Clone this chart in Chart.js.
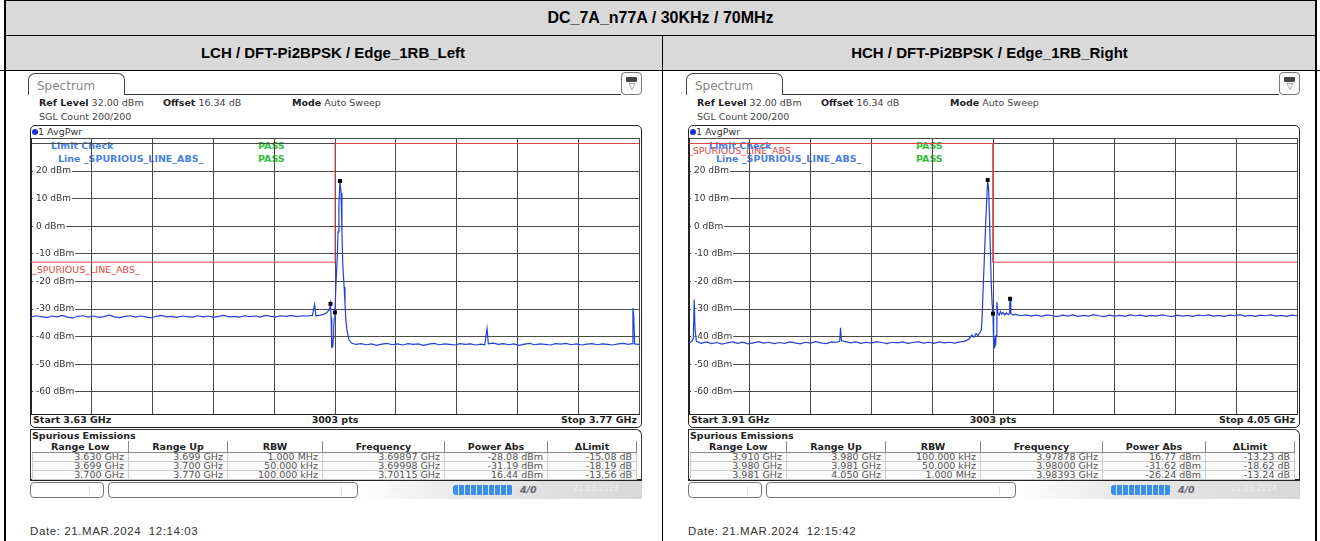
<!DOCTYPE html>
<html><head><meta charset="utf-8">
<script src="https://cdn.jsdelivr.net/npm/chart.js@4.4.1/dist/chart.umd.min.js"></script>
<style>
html,body{margin:0;padding:0;background:#fff}
body{width:1320px;height:541px;position:relative;overflow:hidden;font-family:"DejaVu Sans",sans-serif}
.hdr{position:absolute;background:#d9d9d9;font:bold 16px "Liberation Sans",Arial,sans-serif;color:#000;text-align:center;box-sizing:border-box}
.ln{position:absolute;background:#000}
.panel{position:absolute;top:0;width:660px;height:541px}
.panel div,.panel canvas{position:absolute}
.t{font-size:9.5px;line-height:11px;color:#444;white-space:nowrap}
.t b{color:#222}
.tab{left:28px;top:73px;width:97px;height:22px;border:1px solid #444;border-bottom:none;border-radius:7px 7px 0 0;box-sizing:border-box;font-size:12px;color:#888;padding:5px 0 0 8px}
.tabline{left:125px;top:94px;width:496px;height:1px;background:#333}
.icon{left:621px;top:72px;width:21px;height:23px;border:1px solid #777;border-radius:4px;box-sizing:border-box;background:#fafafa}
.frame{left:30px;top:125px;width:612px;height:303px;border:1px solid #222;border-radius:5px;box-sizing:border-box;background:#fff}
.sfr{left:30px;top:429px;width:612px;height:52px;border:1px solid #333;border-bottom:2px solid #222;border-radius:0 6px 0 0;box-sizing:border-box;background:#fff}
table{border-collapse:collapse;table-layout:fixed;font-size:9.5px}
td{height:8px;line-height:8px;padding:0 4px 0 0;text-align:right;color:#555;border:1px solid #ccc;white-space:nowrap;overflow:hidden;background:#fbfbfb}
tr.th td{height:11px;line-height:11px;font-weight:bold;text-align:center;color:#222;border:none;border-right:1px solid #888;border-bottom:1px solid #888;background:#fff;padding:0}
.box{border:1px solid #777;border-radius:4px;box-sizing:border-box;background:#fff}
.date{font:11.5px "Liberation Sans",Arial,sans-serif;letter-spacing:0.6px;color:#333;white-space:nowrap}
</style></head><body>

<div class="hdr" style="left:4px;top:0;width:1313px;height:35px;line-height:35px" id="title"></div>
<div class="hdr" style="left:4px;top:35px;width:658px;height:35px;line-height:35px;font-size:15px" id="lchHead"></div>
<div class="hdr" style="left:662px;top:35px;width:655px;height:35px;line-height:35px;font-size:15px" id="hchHead"></div>
<div class="ln" style="left:4px;top:0;width:1313px;height:1px"></div>
<div class="ln" style="left:4px;top:35px;width:1313px;height:1px"></div>
<div class="ln" style="left:0;top:70px;width:1320px;height:1px"></div>
<div class="ln" style="left:4px;top:0;width:2px;height:541px"></div>
<div class="ln" style="left:1315px;top:0;width:2px;height:541px"></div>
<div class="ln" style="left:662px;top:35px;width:1px;height:506px"></div>

<script>
const titleText = "DC_7A_n77A / 30KHz / 70MHz";
const lchTitle = "LCH / DFT-Pi2BPSK / Edge_1RB_Left";
const hchTitle = "HCH / DFT-Pi2BPSK / Edge_1RB_Right";

const lchRange = [3.63, 3.77];
const hchRange = [3.91, 4.05];
const yTicks = [-68, -60, -50, -40, -30, -20, -10, 0, 10, 20, 30, 32];
const yLabelled = [20, 10, 0, -10, -20, -30, -40, -50, -60];

// AvgPwr trace, [GHz, dBm]
const lchTrace = [
 [3.6300,-32.9],[3.6312,-32.4],[3.6324,-32.7],[3.6336,-33.1],[3.6348,-32.5],[3.6360,-32.8],[3.6372,-32.3],[3.6384,-32.9],
 [3.6396,-33.2],[3.6408,-32.6],[3.6420,-32.4],[3.6432,-32.9],[3.6444,-32.5],[3.6456,-33.0],[3.6468,-32.7],[3.6480,-32.2],
 [3.6492,-32.8],[3.6504,-33.1],[3.6516,-32.6],[3.6528,-32.4],[3.6540,-32.9],[3.6552,-32.5],[3.6564,-32.8],[3.6576,-33.2],
 [3.6588,-32.6],[3.6600,-32.3],[3.6612,-32.8],[3.6624,-32.6],[3.6636,-33.0],[3.6648,-32.5],[3.6660,-32.7],[3.6672,-32.9],
 [3.6684,-32.4],[3.6696,-32.8],[3.6708,-32.5],[3.6720,-33.0],[3.6732,-32.6],[3.6744,-32.3],[3.6756,-32.8],[3.6768,-32.6],
 [3.6780,-32.9],[3.6792,-32.4],[3.6804,-32.7],[3.6816,-32.5],[3.6828,-32.9],[3.6840,-32.3],[3.6852,-32.6],[3.6864,-32.8],
 [3.6876,-32.4],[3.6888,-32.6],[3.6900,-32.3],[3.6912,-32.7],[3.6924,-32.4],[3.6936,-32.5],[3.6948,-32.3],[3.6953,-28.3],
 [3.6956,-32.4],[3.6966,-32.2],[3.6975,-31.8],[3.6981,-31.3],[3.6985,-30.6],[3.6988,-29.6],[3.69897,-28.08],[3.6991,-33.0],
 [3.6992,-42.5],[3.6993,-44.2],[3.6994,-41.0],[3.6995,-43.8],[3.6996,-40.5],[3.6997,-37.0],[3.6998,-33.5],[3.69998,-31.19],
 [3.7002,-22.0],[3.7005,-12.0],[3.7007,-2.0],[3.7009,8.0],[3.70115,16.44],[3.7014,12.0],[3.7016,-2.0],[3.7018,-14.0],
 [3.7021,-22.0],[3.7023,-28.0],[3.7025,-34.0],[3.7028,-38.0],[3.7032,-41.0],[3.7038,-42.3],[3.7048,-42.8],[3.7060,-42.5],
 [3.7072,-42.9],[3.7084,-42.6],[3.7096,-43.1],[3.7108,-42.7],[3.7120,-42.4],[3.7132,-42.9],[3.7144,-42.6],[3.7156,-43.0],
 [3.7168,-42.5],[3.7180,-42.8],[3.7192,-42.6],[3.7204,-43.1],[3.7216,-42.7],[3.7228,-42.4],[3.7240,-42.9],[3.7252,-42.6],
 [3.7264,-42.8],[3.7276,-43.0],[3.7288,-42.5],[3.7300,-42.8],[3.7312,-42.6],[3.7324,-43.0],[3.7336,-42.7],[3.7345,-42.9],
 [3.7350,-37.0],[3.7353,-42.6],[3.7364,-42.3],[3.7376,-42.8],[3.7388,-42.5],[3.7400,-42.9],[3.7412,-42.6],[3.7424,-43.1],
 [3.7436,-42.7],[3.7448,-42.4],[3.7460,-42.9],[3.7472,-42.6],[3.7484,-42.8],[3.7496,-43.0],[3.7508,-42.5],[3.7520,-42.7],
 [3.7532,-42.4],[3.7544,-42.9],[3.7556,-42.6],[3.7568,-43.0],[3.7580,-42.7],[3.7592,-42.5],[3.7604,-42.9],[3.7616,-42.6],
 [3.7628,-42.8],[3.7640,-43.0],[3.7652,-42.6],[3.7664,-42.4],[3.7676,-42.8],[3.7684,-42.5],[3.7686,-29.6],[3.7688,-33.0],
 [3.7690,-42.6],[3.7700,-42.8]
];
const hchTrace = [
 [3.9100,-42.1],[3.9106,-41.8],[3.9110,-40.6],[3.9112,-26.5],[3.9114,-37.5],[3.9117,-41.7],[3.9128,-42.4],[3.9140,-41.9],
 [3.9152,-42.5],[3.9164,-42.1],[3.9176,-42.7],[3.9188,-42.2],[3.9200,-41.9],[3.9212,-42.4],[3.9224,-42.0],[3.9236,-42.6],
 [3.9248,-42.2],[3.9260,-41.8],[3.9272,-42.3],[3.9284,-42.0],[3.9296,-42.5],[3.9308,-42.1],[3.9320,-42.4],[3.9332,-41.9],
 [3.9344,-42.2],[3.9356,-42.6],[3.9368,-42.0],[3.9380,-42.3],[3.9392,-41.8],[3.9404,-42.2],[3.9416,-42.5],[3.9428,-41.9],
 [3.9440,-42.0],[3.9447,-41.6],[3.9449,-36.8],[3.9451,-41.5],[3.9460,-41.8],[3.9472,-42.2],[3.9484,-41.9],[3.9496,-42.4],
 [3.9508,-42.0],[3.9520,-42.3],[3.9532,-41.8],[3.9544,-42.1],[3.9556,-42.5],[3.9568,-42.0],[3.9580,-42.2],[3.9592,-41.9],
 [3.9604,-42.4],[3.9616,-42.1],[3.9628,-41.8],[3.9640,-42.3],[3.9652,-42.0],[3.9664,-42.4],[3.9676,-41.9],[3.9688,-42.2],
 [3.9700,-42.0],[3.9712,-42.3],[3.9724,-41.9],[3.9736,-41.6],[3.9745,-40.8],[3.9751,-39.4],[3.9756,-40.2],[3.9761,-38.9],
 [3.9766,-39.6],[3.9770,-38.4],[3.9773,-37.6],[3.9775,-33.0],[3.9777,-24.0],[3.9780,-12.0],[3.9783,0.5],[3.9786,11.0],
 [3.97878,16.77],[3.9790,13.5],[3.9792,3.0],[3.9794,-9.0],[3.9796,-21.0],[3.9798,-28.0],[3.98000,-31.62],[3.9801,-38.0],
 [3.9802,-43.6],[3.9803,-40.8],[3.9804,-44.3],[3.9805,-40.2],[3.9806,-43.2],[3.9807,-39.5],[3.9809,-27.4],[3.9811,-31.6],
 [3.9814,-32.2],[3.9817,-30.9],[3.9820,-31.9],[3.9823,-31.2],[3.9827,-32.1],[3.9831,-31.4],[3.9835,-32.0],[3.9838,-31.6],
 [3.98393,-26.24],[3.9841,-31.5],[3.9846,-32.2],[3.9852,-31.9],[3.9864,-32.4],[3.9876,-32.1],[3.9888,-32.5],[3.9900,-32.2],
 [3.9912,-32.6],[3.9924,-32.1],[3.9936,-32.4],[3.9948,-32.7],[3.9960,-32.2],[3.9972,-32.5],[3.9984,-32.1],[3.9996,-32.6],
 [4.0008,-32.3],[4.0020,-32.5],[4.0032,-32.0],[4.0044,-32.4],[4.0056,-32.7],[4.0068,-32.2],[4.0080,-32.5],[4.0092,-32.3],
 [4.0104,-32.6],[4.0116,-32.1],[4.0128,-32.4],[4.0140,-32.2],[4.0152,-32.6],[4.0164,-32.3],[4.0176,-32.5],[4.0188,-32.1],
 [4.0200,-32.4],[4.0212,-32.7],[4.0224,-32.2],[4.0236,-32.5],[4.0248,-32.3],[4.0260,-32.6],[4.0272,-32.2],[4.0284,-32.4],
 [4.0296,-32.1],[4.0308,-32.5],[4.0320,-32.3],[4.0332,-32.6],[4.0344,-32.2],[4.0356,-32.4],[4.0368,-32.0],[4.0380,-32.5],
 [4.0392,-32.3],[4.0404,-32.6],[4.0416,-32.2],[4.0428,-32.4],[4.0440,-32.1],[4.0452,-32.5],[4.0464,-32.3],[4.0476,-32.6],
 [4.0488,-32.2],[4.0500,-32.4]
];
const lchMarkers = [[3.69897,-28.08],[3.69998,-31.19],[3.70115,16.44]];
const hchMarkers = [[3.97878,16.77],[3.98000,-31.62],[3.98393,-26.24]];
const lchLimit = [[3.63,-13],[3.70,-13],[3.70,30],[3.77,30]];
const hchLimit = [[3.91,30],[3.98,30],[3.98,-13],[4.05,-13]];

const tableHead = ["Range Low","Range Up","RBW","Frequency","Power Abs","\u0394Limit"];
const lchRows = [
 ["3.630 GHz","3.699 GHz","1.000 MHz","3.69897 GHz","-28.08 dBm","-15.08 dB"],
 ["3.699 GHz","3.700 GHz","50.000 kHz","3.69998 GHz","-31.19 dBm","-18.19 dB"],
 ["3.700 GHz","3.770 GHz","100.000 kHz","3.70115 GHz","16.44 dBm","-13.56 dB"]
];
const hchRows = [
 ["3.910 GHz","3.980 GHz","100.000 kHz","3.97878 GHz","16.77 dBm","-13.23 dB"],
 ["3.980 GHz","3.981 GHz","50.000 kHz","3.98000 GHz","-31.62 dBm","-18.62 dB"],
 ["3.981 GHz","4.050 GHz","1.000 MHz","3.98393 GHz","-26.24 dBm","-13.24 dB"]
];
const colW = [96,99,95,122,103,89];

const TRACE = "#2340d8", LIMIT = "#e04848", GRID = "#4a4a4a";

document.getElementById("title").textContent = titleText;
document.getElementById("lchHead").textContent = lchTitle;
document.getElementById("hchHead").textContent = hchTitle;

function pts(a){ return a.map(([x,y])=>({x,y})); }

function panel(p){
  const el = document.createElement("div");
  el.className = "panel";
  el.style.left = p.ox + "px";
  const rows = p.rows.map(r=>"<tr>"+r.map(c=>`<td>${c}</td>`).join("")+"</tr>").join("");
  el.innerHTML = `
  <div class="tab">Spectrum</div>
  <div class="tabline"></div>
  <div class="icon"><div style="left:4px;top:4px;width:11px;height:5px;background:#444;border-radius:1px"></div>
    <div style="left:4px;top:9px;width:12px;font-size:9px;line-height:9px;color:#666;text-align:center">\u25BD</div></div>
  <div class="t" style="left:39px;top:97px"><b>Ref Level</b> 32.00 dBm</div>
  <div class="t" style="left:163px;top:97px"><b>Offset</b> 16.34 dB</div>
  <div class="t" style="left:292px;top:97px"><b>Mode</b> Auto Sweep</div>
  <div class="t" style="left:39px;top:111px">SGL Count 200/200</div>
  <div class="frame"></div>
  <div style="left:32px;top:129px;width:6px;height:6px;border-radius:3px;background:#1a2fd0"></div>
  <div class="t" style="left:38px;top:126px;color:#333">1 AvgPwr</div>
  ${p.redTop ? `<div class="t" style="left:30px;top:145px;color:${LIMIT}">_SPURIOUS_LINE_ABS</div>` : ""}
  ${p.redLow ? `<div class="t" style="left:32px;top:264px;color:${LIMIT}">_SPURIOUS_LINE_ABS_</div>` : ""}
  <div class="t" style="left:51px;top:140px;color:#4a7fe0;font-weight:bold">Limit Check</div>
  <div class="t" style="left:258px;top:140px;color:#33c040;font-weight:bold">PASS</div>
  <div class="t" style="left:58px;top:153px;color:#4a7fe0;font-weight:bold">Line _SPURIOUS_LINE_ABS_</div>
  <div class="t" style="left:258px;top:153px;color:#33c040;font-weight:bold">PASS</div>
  <div class="t" style="left:33px;top:414px"><b>Start ${p.range[0]} GHz</b></div>
  <div class="t" style="left:285px;top:414px;width:100px;text-align:center"><b>3003 pts</b></div>
  <div class="t" style="left:537px;top:414px;width:100px;text-align:right"><b>Stop ${p.range[1]} GHz</b></div>
  <div class="sfr"></div>
  <div class="t" style="left:32px;top:430px"><b>Spurious Emissions</b></div>
  <div style="left:32px;top:441px"><table>
    <colgroup>${colW.map(w=>`<col style="width:${w}px">`).join("")}</colgroup>
    <tr class="th">${tableHead.map(h=>`<td>${h}</td>`).join("")}</tr>${rows}</table></div>
  <div class="box" style="left:30px;top:482px;width:74px;height:16px"><div style="left:58px;top:3px;width:1px;height:9px;background:#ddd"></div></div>
  <div class="box" style="left:108px;top:482px;width:250px;height:16px"><div style="left:232px;top:3px;width:1px;height:9px;background:#ddd"></div></div>
  <div style="left:360px;top:481px;width:282px;height:18px;background:linear-gradient(90deg,#fff 0%,#e6e6e6 40%,#d8d8d8 100%)"></div>
  <div class="t" style="left:390px;top:484px;color:#f4f4f4;font-weight:bold">Ready</div>
  <div style="left:453px;top:485px;width:60px;height:10px;border-radius:3px;background:repeating-linear-gradient(90deg,#3d8fe6 0,#3d8fe6 5px,#d8e8f8 5px,#d8e8f8 6px)"></div>
  <div class="t" style="left:520px;top:484px;color:#667;font-weight:bold;font-style:italic">4/0</div>
  <div class="t" style="left:573px;top:483px;color:#eee;font-size:8px">21.03.2024</div>
  <div class="date" style="left:30px;top:525px">${p.date}</div>
  <canvas id="${p.id}" width="620" height="288" style="left:25px;top:132px"></canvas>`;
  document.body.appendChild(el);

  const [start, stop] = p.range;
  const xTicks = [];
  for (let i = 0; i <= 10; i++) xTicks.push(start + (stop - start) * i / 10);
  const lab = v => yLabelled.includes(v);
  const flatX = ax => { ax.paddingLeft = 0; ax.paddingRight = 0; ax.paddingTop = 0; ax.paddingBottom = 0; ax.height = 0; };
  const flatY = ax => { ax.paddingLeft = 0; ax.paddingRight = 0; ax.paddingTop = 0; ax.paddingBottom = 0; ax.width = 0; };

  new Chart(document.getElementById(p.id), {
    type: "line",
    data: { datasets: [
      { data: pts(p.markers), showLine: false, pointStyle: "rect", pointRadius: 2.8, pointBorderWidth: 0,
        pointBackgroundColor: "#000", order: 0 },
      { data: pts(p.trace), borderColor: TRACE, borderWidth: 1.2, pointRadius: 0, tension: 0, order: 1 },
      { data: pts(p.limit), borderColor: LIMIT, borderWidth: 1, pointRadius: 0, tension: 0, order: 2 }
    ]},
    options: {
      responsive: false, animation: false,
      layout: { padding: 6 },
      plugins: { legend: { display: false }, tooltip: { enabled: false } },
      scales: {
        x: { type: "linear", min: start, max: stop, afterFit: flatX,
             afterBuildTicks: ax => { ax.ticks = xTicks.map(v => ({ value: v })); },
             ticks: { display: false },
             grid: { color: GRID, drawTicks: false },
             border: { color: "#222", width: 1 } },
        y: { type: "linear", min: -68, max: 32, afterFit: flatY,
             afterBuildTicks: ax => { ax.ticks = yTicks.map(v => ({ value: v })); },
             ticks: { mirror: true, padding: 5, color: "#333",
                      font: { family: "DejaVu Sans", size: 9 },
                      callback: v => lab(v) ? v + " dBm" : "",
                      showLabelBackdrop: ctx => lab(ctx.tick.value),
                      backdropColor: "#fff",
                      backdropPadding: { left: 3, right: 1, top: 0, bottom: 0 } },
             grid: { color: GRID, drawTicks: false },
             border: { color: "#222", width: 1 } }
      }
    }
  });
}

panel({ ox: 0, id: "cL", range: lchRange, trace: lchTrace, markers: lchMarkers, limit: lchLimit,
        rows: lchRows, date: "Date: 21.MAR.2024&nbsp; 12:14:03", redLow: true });
panel({ ox: 658, id: "cR", range: hchRange, trace: hchTrace, markers: hchMarkers, limit: hchLimit,
        rows: hchRows, date: "Date: 21.MAR.2024&nbsp; 12:15:42", redTop: true });
</script>
</body></html>
